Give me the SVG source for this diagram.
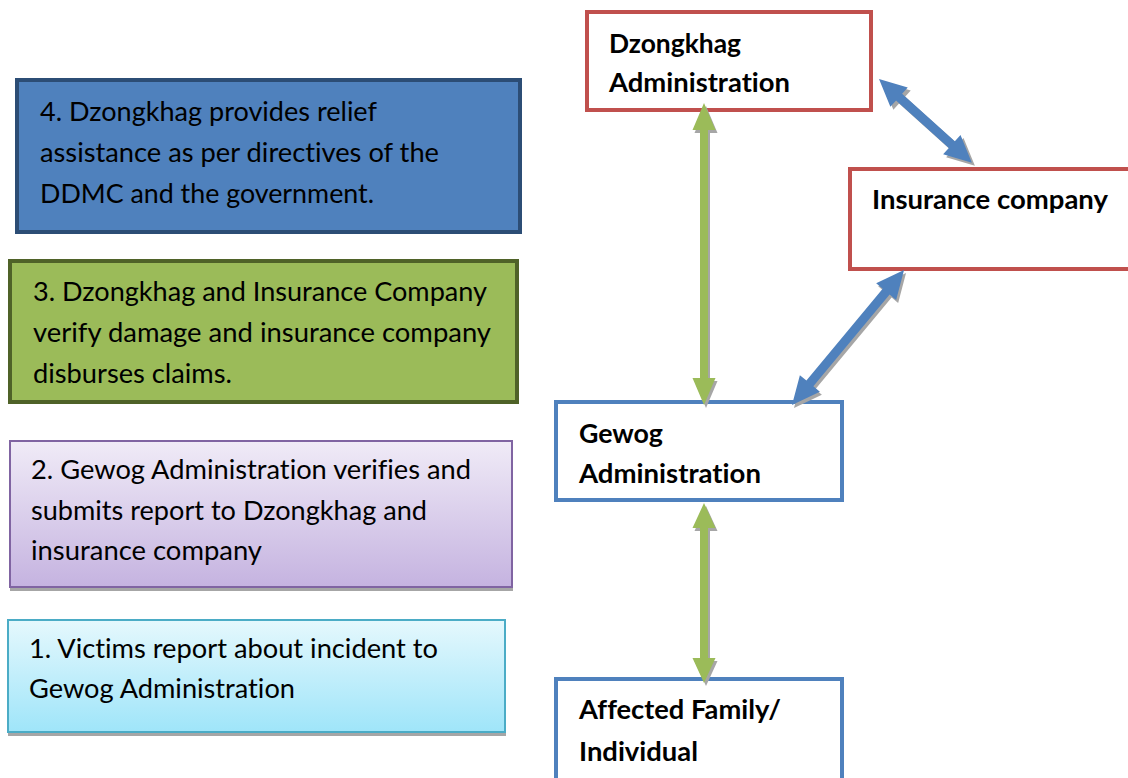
<svg xmlns="http://www.w3.org/2000/svg" width="1128" height="778" viewBox="0 0 1128 778">
<defs>
<linearGradient id="gPurple" x1="0" y1="0" x2="0" y2="1">
<stop offset="0" stop-color="#f0ebf7"/><stop offset="1" stop-color="#c5b3e0"/>
</linearGradient>
<linearGradient id="gCyan" x1="0" y1="0" x2="0" y2="1">
<stop offset="0" stop-color="#e5f8fd"/><stop offset="1" stop-color="#9fe5f9"/>
</linearGradient>
<polygon id="arrV1" points="0,0 27,-11.5 27,-4 275,-4 275,-11.5 302,0 275,11.5 275,4 27,4 27,11.5"/>
</defs>
<style>
.t{font-family:Lato,"Open Sans","Liberation Sans",sans-serif;font-size:26.5px;fill:#000;font-variant-ligatures:none}
.b{font-family:Lato,"Open Sans","Liberation Sans",sans-serif;font-size:26.5px;font-weight:bold;fill:#000;font-variant-ligatures:none}
.sh{fill:#a6a6a6}
.gA{fill:#9bbb59}
.bA{fill:#4f81bd}
</style>
<rect width="1128" height="778" fill="#fff"/>

<g id="step4">
<rect x="17" y="80" width="503" height="152" fill="#4f81bd" stroke="#2c4d75" stroke-width="4"/>
<text class="t" x="40" y="121" textLength="337" lengthAdjust="spacingAndGlyphs">4. Dzongkhag provides relief</text>
<text class="t" x="40" y="162" textLength="399" lengthAdjust="spacingAndGlyphs">assistance as per directives of the</text>
<text class="t" x="40" y="203" textLength="334" lengthAdjust="spacingAndGlyphs">DDMC and the government.</text>
</g>
<g id="step3">
<rect x="10" y="261" width="507" height="141" fill="#9bbb59" stroke="#4f6228" stroke-width="4"/>
<text class="t" x="33" y="301" textLength="454" lengthAdjust="spacingAndGlyphs">3. Dzongkhag and Insurance Company</text>
<text class="t" x="33" y="342" textLength="458" lengthAdjust="spacingAndGlyphs">verify damage and insurance company</text>
<text class="t" x="33" y="383" textLength="199" lengthAdjust="spacingAndGlyphs">disburses claims.</text>
</g>
<g id="step2">
<rect x="10" y="445" width="503" height="146" class="sh"/>
<rect x="10" y="441" width="502" height="146" fill="url(#gPurple)" stroke="#8064a2" stroke-width="2"/>
<text class="t" x="31" y="479" textLength="440" lengthAdjust="spacingAndGlyphs">2. Gewog Administration verifies and</text>
<text class="t" x="31" y="520" textLength="396" lengthAdjust="spacingAndGlyphs">submits report to Dzongkhag and</text>
<text class="t" x="31" y="560" textLength="231" lengthAdjust="spacingAndGlyphs">insurance company</text>
</g>
<g id="step1">
<rect x="8" y="624" width="498" height="112" class="sh"/>
<rect x="8" y="620" width="497" height="112" fill="url(#gCyan)" stroke="#4bacc6" stroke-width="2"/>
<text class="t" x="29" y="658" textLength="409" lengthAdjust="spacingAndGlyphs">1. Victims report about incident to</text>
<text class="t" x="29" y="698" textLength="266" lengthAdjust="spacingAndGlyphs">Gewog Administration</text>
</g>

<g id="dzongkhag">
<rect x="587" y="12" width="284" height="98" fill="#fff" stroke="#c0504d" stroke-width="4"/>
<text class="b" x="609" y="53" textLength="132" lengthAdjust="spacingAndGlyphs">Dzongkhag</text>
<text class="b" x="609" y="92" textLength="181" lengthAdjust="spacingAndGlyphs">Administration</text>
</g>
<g id="insurance">
<rect x="850" y="169" width="290" height="100" fill="#fff" stroke="#c0504d" stroke-width="4"/>
<text class="b" x="872" y="209" textLength="236" lengthAdjust="spacingAndGlyphs">Insurance company</text>
</g>
<g id="gewog">
<rect x="556" y="402" width="286" height="98" fill="#fff" stroke="#4f81bd" stroke-width="4"/>
<text class="b" x="579" y="443" textLength="84" lengthAdjust="spacingAndGlyphs">Gewog</text>
<text class="b" x="579" y="483" textLength="182" lengthAdjust="spacingAndGlyphs">Administration</text>
</g>
<g id="affected">
<rect x="556" y="679" width="286" height="110" fill="#fff" stroke="#4f81bd" stroke-width="4"/>
<text class="b" x="579" y="719" textLength="202" lengthAdjust="spacingAndGlyphs">Affected Family/</text>
<text class="b" x="579" y="761" textLength="119" lengthAdjust="spacingAndGlyphs">Individual</text>
</g>

<g id="connectors">
<g transform="translate(706,106) rotate(90)"><use href="#arrV1" class="sh"/></g>
<g transform="translate(704,103) rotate(90)"><use href="#arrV1" class="gA"/></g>
<g transform="translate(706,506) rotate(90)"><polygon class="sh" points="0,0 25,-11.5 25,-4 155,-4 155,-11.5 180,0 155,11.5 155,4 25,4 25,11.5"/></g>
<g transform="translate(704,503) rotate(90)"><polygon class="gA" points="0,0 25,-11.5 25,-4 155,-4 155,-11.5 180,0 155,11.5 155,4 25,4 25,11.5"/></g>
<g transform="translate(882,82) rotate(42)"><polygon class="sh" points="0,0 27,-13 27,-4.5 98,-4.5 98,-13 125,0 98,13 98,4.5 27,4.5 27,13"/></g>
<g transform="translate(879,79) rotate(42)"><polygon class="bA" points="0,0 27,-13 27,-4.5 98,-4.5 98,-13 125,0 98,13 98,4.5 27,4.5 27,13"/></g>
<g transform="translate(794,408) rotate(-50.3)"><polygon class="sh" points="0,0 28,-13 28,-4.5 147.4,-4.5 147.4,-13 175.4,0 147.4,13 147.4,4.5 28,4.5 28,13"/></g>
<g transform="translate(792,405) rotate(-50.3)"><polygon class="bA" points="0,0 28,-13 28,-4.5 147.4,-4.5 147.4,-13 175.4,0 147.4,13 147.4,4.5 28,4.5 28,13"/></g>
</g>
</svg>
